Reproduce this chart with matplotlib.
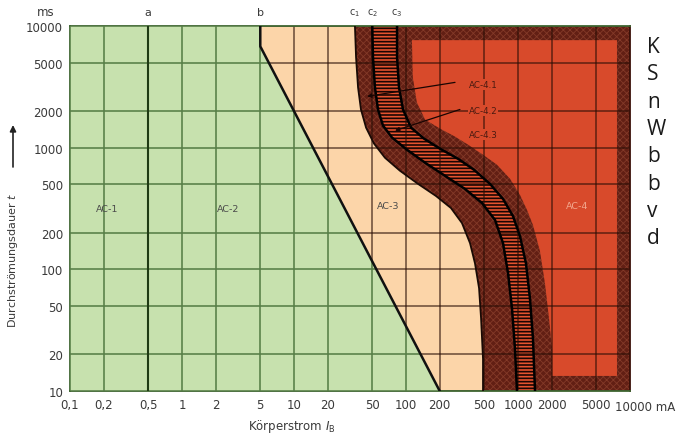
import matplotlib
matplotlib.use("Agg")
import matplotlib.pyplot as plt
from matplotlib import transforms

# ---------------- data ----------------
x_ticks = [0.1, 0.2, 0.5, 1, 2, 5, 10, 20, 50, 100, 200, 500, 1000, 2000, 5000, 10000]
x_tick_labels = ["0,1", "0,2", "0,5", "1", "2", "5", "10", "20", "50", "100", "200",
                 "500", "1000", "2000", "5000", "10000"]
y_ticks = [10, 20, 50, 100, 200, 500, 1000, 2000, 5000, 10000]
y_tick_labels = ["10", "20", "50", "100", "200", "500", "1000", "2000", "5000", "10000"]
x_unit = "mA"
y_unit = "ms"

# boundary a (mA)
a_current = 0.5
# boundary b
b_current = [5, 5, 200]
b_time = [10000, 6800, 10]
# boundary c1
c1_current = [35.0, 35.8, 37.3, 39.6, 44.0, 51.8, 64.9, 88.3, 128, 185, 252, 316, 373, 413, 449, 468, 487, 487]
c1_time = [10000, 5550, 3130, 2060, 1460, 1080, 826, 646, 504, 401, 319, 240, 164, 112, 70, 39.4, 18.4, 10]
# boundary c2
c2_current = [50, 50.7, 52.8, 56.2, 62.3, 75.0, 102, 148, 223, 336, 477, 624, 735, 815, 884, 940, 979]
c2_time = [10000, 5550, 3130, 2060, 1520, 1210, 962, 752, 587, 458, 351, 254, 164, 92.7, 47.6, 22.2, 10]
# boundary c3
c3_current = [83.2, 83.2, 86.6, 94.0, 111, 145, 201, 291, 405, 562, 735, 902, 1042, 1178, 1279, 1361, 1419]
c3_time = [10000, 5550, 3130, 2060, 1460, 1186, 981, 811, 658, 504, 379, 274, 187, 112, 57.5, 26.9, 10]
# inner AC-4 (red) field
ac4_edge_current = [113, 115, 125, 148, 201, 274, 358, 487, 649, 849, 1042, 1203, 1361, 1571, 1741, 1893, 2015, 2015]
ac4_edge_time = [7650, 3800, 2355, 1702, 1435, 1233, 1059, 875, 724, 555, 409, 308, 231, 141, 76.6, 39.4, 22.2, 13.3]
ac4_inner_top = 7650
ac4_inner_right = 7650
ac4_inner_bottom = 13.3

zone_labels = ["AC-1", "AC-2", "AC-3", "AC-4"]
zone_current = [0.214, 2.58, 69, 3365]
zone_time = [319, 319, 332, 332]

sub_labels = ["AC-4.1", "AC-4.2", "AC-4.3"]
sub_current = [487, 487, 487]
sub_time = [3320, 2020, 1280]

side_letters = ["K", "S", "n", "W", "b", "b", "v", "d"]

# ---------------- style ----------------
GREEN = "#C7E1AE"
GREEN_GRID = "#577F47"
PEACH = "#FCD5A9"
DARK = "#621F14"
RED = "#D84A2B"
DARK_GRID = "#2A0E05"
TXT = "#3a3a3a"

plt.rcParams["font.family"] = ["DejaVu Sans"]

fig = plt.figure(figsize=(6.81, 4.39), dpi=100)
ax = fig.add_axes([70 / 681, 1 - 392 / 439, 560 / 681, 365 / 439])
ax.set_xscale("log")
ax.set_yscale("log")
x_min, x_max = x_ticks[0], x_ticks[-1]
y_min, y_max = y_ticks[0], y_ticks[-1]
ax.set_xlim(x_min, x_max)
ax.set_ylim(y_min, y_max)
ax.set_facecolor(PEACH)

# dark zone right of c1
with plt.rc_context({"hatch.linewidth": 0.6}):
    ax.fill(c1_current + [x_max, x_max], c1_time + [y_min, y_max],
            facecolor=DARK, edgecolor="#843A28", hatch="xxxxx", lw=0, zorder=1)

# inner red AC-4 field
ax.fill(ac4_edge_current + [ac4_inner_right, ac4_inner_right],
        ac4_edge_time + [ac4_inner_bottom, ac4_inner_top],
        facecolor=RED, lw=0, zorder=1.1)

# striped band between c2 and c3
with plt.rc_context({"hatch.linewidth": 1.2}):
    ax.fill(c2_current + c3_current[::-1], c2_time + c3_time[::-1],
            facecolor="#E4532F", edgecolor="#1a0502", hatch="-----", lw=0, zorder=1.2)

# dark grid everywhere
for xv in x_ticks:
    ax.axvline(xv, color=DARK_GRID, alpha=0.7, lw=1.1, zorder=2)
for yv in y_ticks:
    ax.axhline(yv, color=DARK_GRID, alpha=0.7, lw=1.1, zorder=2)

# green zone (AC-1 / AC-2)
green_x = [x_min, x_min] + b_current
green_y = [y_min, y_max] + b_time
green_patch = ax.fill(green_x, green_y, facecolor=GREEN, lw=0, zorder=3)[0]
for xv in x_ticks:
    l = ax.axvline(xv, color=GREEN_GRID, lw=1.15, zorder=4)
    l.set_clip_path(green_patch)
for yv in y_ticks:
    l = ax.axhline(yv, color=GREEN_GRID, lw=1.15, zorder=4)
    l.set_clip_path(green_patch)

# boundaries
ax.axvline(a_current, color="#1f3a14", lw=1.5, zorder=5)
ax.plot(b_current, b_time, color="#111111", lw=1.8, zorder=5)
ax.plot(c1_current, c1_time, color="#1a0a05", lw=1.3, zorder=5)
ax.plot(c2_current, c2_time, color="#000000", lw=1.8, zorder=5)
ax.plot(c3_current, c3_time, color="#000000", lw=1.8, zorder=5)

# zone labels
for lab, xc, yt in zip(zone_labels, zone_current, zone_time):
    col = "#F2A88E" if lab == "AC-4" else "#4a4a4a"
    ax.text(xc, yt, lab, ha="center", va="center", fontsize=6.8, color=col, zorder=6)

for lab, xc, yt in zip(sub_labels, sub_current, sub_time):
    ax.text(xc, yt, lab, ha="center", va="center", fontsize=6.3, color="#4a1a10", zorder=6,
            bbox=dict(boxstyle="square,pad=0.12", fc=RED, ec="none"))

# leaders
ax.annotate("", xy=(44.9, 2640), xytext=(274, 3440),
            arrowprops=dict(arrowstyle="-|>", color="#1a0502", lw=0.9, mutation_scale=6,
                            shrinkA=0, shrinkB=0), zorder=6)
ax.annotate("", xy=(79.8, 1380), xytext=(303, 2060),
            arrowprops=dict(arrowstyle="-|>", color="#1a0502", lw=0.9, mutation_scale=6,
                            shrinkA=0, shrinkB=0), zorder=6)

# top labels a, b, c1, c2, c3
blend = transforms.blended_transform_factory(ax.transData, ax.transAxes)
ax.text(a_current, 1.038, "a", transform=blend, ha="center", va="center", fontsize=8, color=TXT)
ax.text(b_current[0], 1.038, "b", transform=blend, ha="center", va="center", fontsize=8, color=TXT)
for name, cx in zip(["c$_1$", "c$_2$", "c$_3$"], [c1_current[0], c2_current[0], c3_current[0]]):
    ax.text(cx, 1.038, name, transform=blend, ha="center", va="center", fontsize=7, color=TXT)

# ticks (last x label is written together with the unit)
ax.set_xticks(x_ticks, x_tick_labels[:-1] + [""])
ax.set_yticks(y_ticks, y_tick_labels)
ax.minorticks_off()
ax.tick_params(axis="both", length=0, labelsize=8.5, labelcolor=TXT)
ax.tick_params(axis="x", pad=5)
ax.tick_params(axis="y", pad=5)

for side in ["left", "bottom", "top"]:
    ax.spines[side].set_color("#3F6632")
    ax.spines[side].set_linewidth(1.3)
ax.spines["right"].set_color("#3A1008")
ax.spines["right"].set_linewidth(1.3)

# outer texts
fig.text(46 / 681, 1 - 13 / 439, y_unit, ha="center", va="center", fontsize=8.5, color=TXT)
fig.text(615 / 681, 1 - 408 / 439, x_tick_labels[-1] + " " + x_unit, ha="left", va="center",
         fontsize=8.5, color=TXT)
fig.text(248 / 681, 1 - 427 / 439, "Körperstrom $I_\\mathrm{B}$", ha="left", va="center",
         fontsize=8.5, color=TXT)
fig.text(13 / 681, 1 - 260 / 439, "Durchströmungsdauer $t$", rotation=90,
         ha="center", va="center", fontsize=8, color=TXT)
ax.annotate("", xy=(13 / 681, 1 - 126 / 439), xytext=(13 / 681, 1 - 168 / 439),
            xycoords="figure fraction", textcoords="figure fraction",
            arrowprops=dict(arrowstyle="-|>", color="#222222", lw=1.2, mutation_scale=9,
                            shrinkA=0, shrinkB=0), annotation_clip=False)

for i, ch in enumerate(side_letters):
    fig.text(647 / 681, 1 - (53 + i * 27.3) / 439, ch, ha="left", va="baseline",
             fontsize=15, color="#1a1a1a", family=["Open Sans", "DejaVu Sans"])

fig.savefig("out.png", dpi=100)
